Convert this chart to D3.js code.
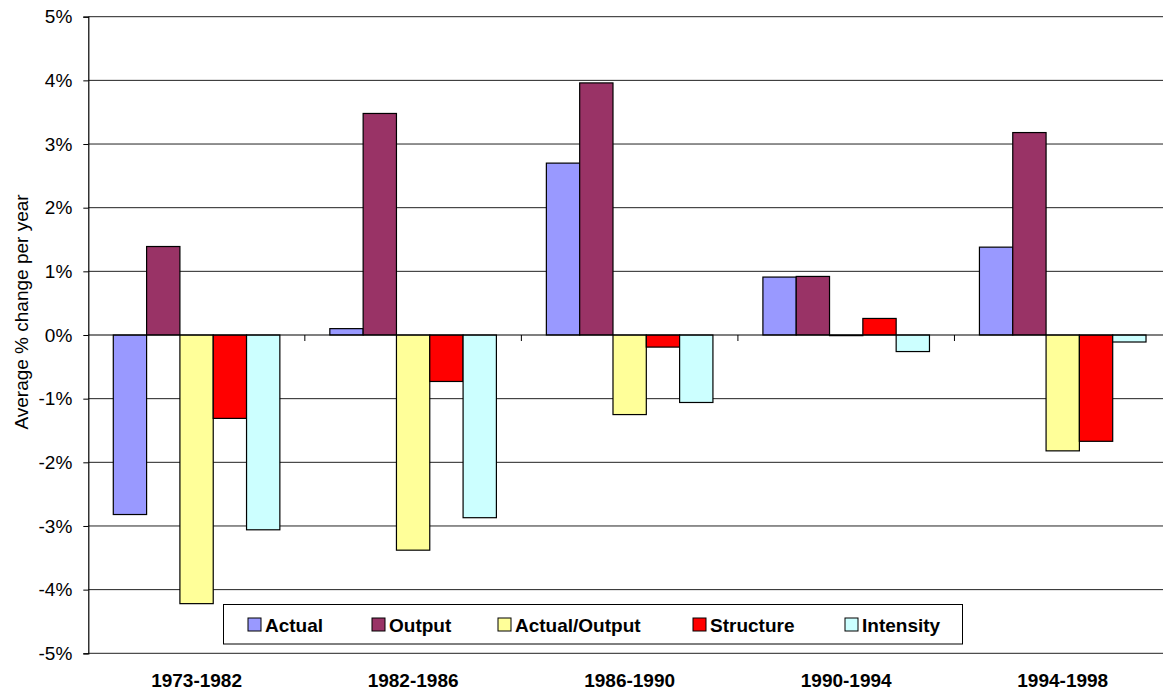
<!DOCTYPE html>
<html>
<head>
<meta charset="utf-8">
<script src="https://cdn.jsdelivr.net/npm/d3@7"></script>
<style>
  body { margin: 0; background: #fff; }
  svg { display: block; font-family: Arial, "Liberation Sans", sans-serif; }
</style>
</head>
<body>
<svg id="chart" width="1163" height="691"></svg>
<script>
const periods = ["1973-1982", "1982-1986", "1986-1990", "1990-1994", "1994-1998"];
const seriesNames = ["Actual", "Output", "Actual/Output", "Structure", "Intensity"];
const seriesColors = ["#9999ff", "#993366", "#ffff99", "#ff0000", "#ccffff"];

// average % change per year, one array per series (in period order)
const actual = [-2.82, 0.10, 2.70, 0.91, 1.38];
const output = [1.39, 3.48, 3.96, 0.92, 3.18];
const actualOutput = [-4.22, -3.38, -1.25, -0.01, -1.82];
const structure = [-1.31, -0.73, -0.19, 0.26, -1.67];
const intensity = [-3.06, -2.87, -1.06, -0.26, -0.11];

const yTicks = [-5, -4, -3, -2, -1, 0, 1, 2, 3, 4, 5];

const seriesValues = [actual, output, actualOutput, structure, intensity];
const rows = [];
periods.forEach((p, i) => {
  seriesNames.forEach((s, j) => {
    rows.push({ period: p, series: s, value: seriesValues[j][i], color: seriesColors[j] });
  });
});

const svg = d3.select("#chart");
const plot = { left: 88.3, right: 1171, top: 16.7, bottom: 653.3 };

const x = d3.scaleBand().domain(periods).range([plot.left, plot.right]).padding(0);
const xs = d3.scaleBand().domain(seriesNames).range([0, x.bandwidth()])
  .paddingInner(0).paddingOuter(0.75);
const y = d3.scaleLinear().domain([-5, 5]).range([plot.bottom, plot.top]);

// gridlines
svg.append("g")
  .selectAll("line")
  .data(yTicks.filter(d => d !== 0))
  .enter()
  .append("line")
  .attr("x1", plot.left)
  .attr("x2", plot.right)
  .attr("y1", d => y(d))
  .attr("y2", d => y(d))
  .attr("stroke", "#222")
  .attr("stroke-width", 1);

// bars
svg.append("g")
  .selectAll("rect")
  .data(rows)
  .enter()
  .append("rect")
  .attr("x", d => x(d.period) + xs(d.series))
  .attr("width", xs.bandwidth())
  .attr("y", d => y(Math.max(0, d.value)))
  .attr("height", d => Math.abs(y(d.value) - y(0)))
  .attr("fill", d => d.color)
  .attr("stroke", "#000")
  .attr("stroke-width", 1.2);

// y axis
const yAxis = svg.append("g")
  .attr("transform", `translate(${plot.left},0)`)
  .call(d3.axisLeft(y).tickValues(yTicks).tickSize(5).tickPadding(11).tickFormat(d => d + "%"));
yAxis.select(".domain").attr("stroke", "#000").attr("stroke-width", 1.2);
yAxis.selectAll(".tick line").attr("stroke", "#000");
yAxis.selectAll(".tick text")
  .attr("font-size", 19)
  .attr("fill", "#000")
  .attr("font-family", "Arial, 'Liberation Sans', sans-serif");

// category axis at zero
const zero = svg.append("g");
zero.append("line")
  .attr("x1", plot.left).attr("x2", plot.right)
  .attr("y1", y(0)).attr("y2", y(0))
  .attr("stroke", "#000").attr("stroke-width", 1.2);
zero.selectAll("line.tick")
  .data(periods.slice(1).concat(["end"]))
  .enter()
  .append("line")
  .attr("class", "tick")
  .attr("x1", (d, i) => plot.left + (i + 1) * x.step())
  .attr("x2", (d, i) => plot.left + (i + 1) * x.step())
  .attr("y1", y(0))
  .attr("y2", y(0) + 6)
  .attr("stroke", "#000");

// category labels at bottom
svg.append("g")
  .selectAll("text")
  .data(periods)
  .enter()
  .append("text")
  .attr("x", d => x(d) + x.bandwidth() / 2)
  .attr("y", 686.5)
  .attr("text-anchor", "middle")
  .attr("font-size", 19)
  .attr("font-weight", "bold")
  .text(d => d);

// y title
svg.append("text")
  .attr("transform", "translate(28,312) rotate(-90)")
  .attr("text-anchor", "middle")
  .attr("font-size", 19)
  .text("Average % change per year");

// legend
const legend = svg.append("g");
legend.append("rect")
  .attr("x", 223.5).attr("y", 604.5)
  .attr("width", 739).attr("height", 39.5)
  .attr("fill", "#fff").attr("stroke", "#000");
const legendX = [248, 372, 498, 693, 845];
const items = legend.selectAll("g.item")
  .data(seriesNames)
  .enter()
  .append("g")
  .attr("class", "item")
  .attr("transform", (d, i) => `translate(${legendX[i]},618)`);
items.append("rect")
  .attr("width", 13).attr("height", 13)
  .attr("fill", (d, i) => seriesColors[i])
  .attr("stroke", "#000");
items.append("text")
  .attr("x", 17)
  .attr("y", 13.5)
  .attr("font-size", 19)
  .attr("font-weight", "bold")
  .text(d => d);
</script>
</body>
</html>
